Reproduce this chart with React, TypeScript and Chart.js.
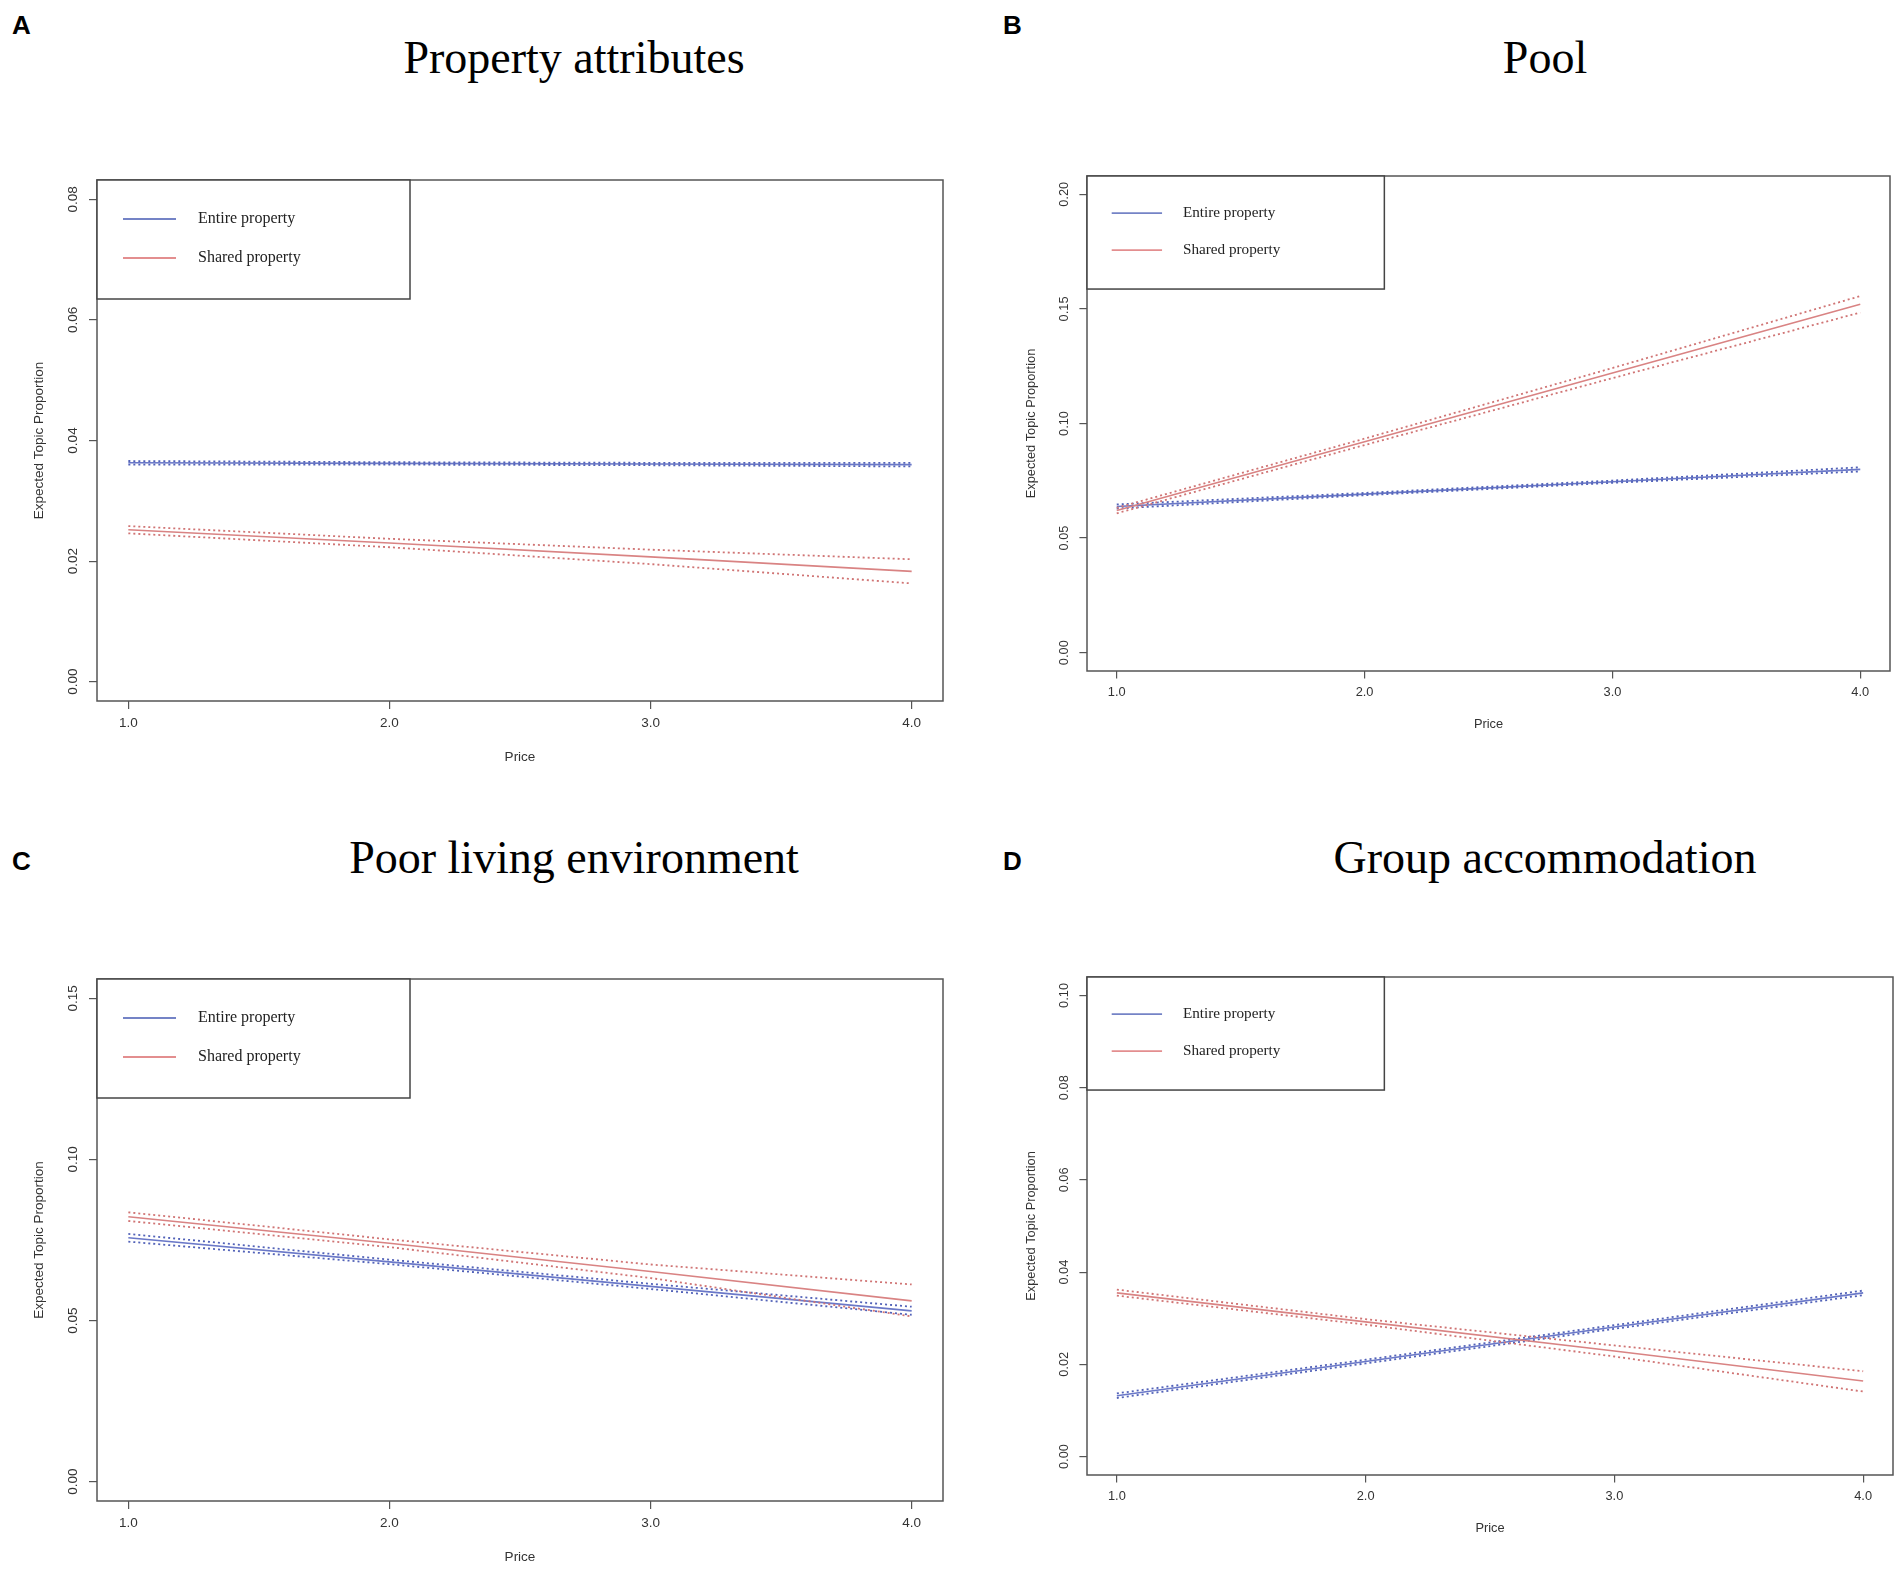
import React, { useEffect, useRef } from "react";
import { Chart, registerables } from "chart.js";
Chart.register(...registerables);

// ---------- data ----------
const PRICE = [1, 2, 3, 4];
const X_TICKS = [1, 2, 3, 4];
const X_TICK_LABELS = ["1.0", "2.0", "3.0", "4.0"];
const SERIES_NAMES = ["Entire property", "Shared property"];
const X_TITLE = "Price";
const Y_TITLE = "Expected Topic Proportion";

// A — Property attributes
const A_Y_TICKS = [0, 0.02, 0.04, 0.06, 0.08];
const A_Y_LABELS = ["0.00", "0.02", "0.04", "0.06", "0.08"];
const A_ENTIRE = [0.0363, 0.0362, 0.0361, 0.036];
const A_ENTIRE_UP = [0.0366, 0.0364, 0.0363, 0.0363];
const A_ENTIRE_LO = [0.036, 0.036, 0.0359, 0.0357];
const A_SHARED = [0.0252, 0.023, 0.0207, 0.0183];
const A_SHARED_UP = [0.0258, 0.0237, 0.0219, 0.0203];
const A_SHARED_LO = [0.0246, 0.0223, 0.0195, 0.0163];

// B — Pool
const B_Y_TICKS = [0, 0.05, 0.1, 0.15, 0.2];
const B_Y_LABELS = ["0.00", "0.05", "0.10", "0.15", "0.20"];
const B_ENTIRE = [0.0638, 0.0692, 0.0746, 0.08];
const B_ENTIRE_UP = [0.0647, 0.0697, 0.0751, 0.0809];
const B_ENTIRE_LO = [0.0629, 0.0687, 0.0741, 0.0791];
const B_SHARED = [0.062, 0.092, 0.122, 0.152];
const B_SHARED_UP = [0.0632, 0.0934, 0.1242, 0.1556];
const B_SHARED_LO = [0.0608, 0.0906, 0.1198, 0.1484];

// C — Poor living environment
const C_Y_TICKS = [0, 0.05, 0.1, 0.15];
const C_Y_LABELS = ["0.00", "0.05", "0.10", "0.15"];
const C_ENTIRE = [0.0757, 0.0682, 0.0606, 0.053];
const C_ENTIRE_UP = [0.0769, 0.0689, 0.0614, 0.0543];
const C_ENTIRE_LO = [0.0745, 0.0675, 0.0598, 0.0518];
const C_SHARED = [0.0822, 0.074, 0.0652, 0.0561];
const C_SHARED_UP = [0.0836, 0.0752, 0.0674, 0.0612];
const C_SHARED_LO = [0.0809, 0.0728, 0.0632, 0.0513];

// D — Group accommodation
const D_Y_TICKS = [0, 0.02, 0.04, 0.06, 0.08, 0.1];
const D_Y_LABELS = ["0.00", "0.02", "0.04", "0.06", "0.08", "0.10"];
const D_ENTIRE = [0.0132, 0.0206, 0.0281, 0.0355];
const D_ENTIRE_UP = [0.0137, 0.021, 0.0285, 0.036];
const D_ENTIRE_LO = [0.0127, 0.0202, 0.0277, 0.035];
const D_SHARED = [0.0355, 0.0292, 0.0229, 0.0164];
const D_SHARED_UP = [0.0362, 0.0298, 0.0241, 0.0185];
const D_SHARED_LO = [0.0349, 0.0286, 0.0217, 0.0141];

// ---------- layout / style ----------
const COL_ENTIRE = "#6a78c8";
const COL_ENTIRE_CI = "#5262b8";
const COL_SHARED = "#d98383";
const COL_SHARED_CI = "#d07474";
const LEG_COLORS = ["#7483c6", "#e38e8f"];

type PanelCfg = {
  letter: string;
  title: string;
  ymax: number;
  yticks: number[];
  ylabels: string[];
  entire: number[][];
  shared: number[][];
  box: { l: number; t: number; r: number; b: number };
  s: number;
  titleX: number;
  titleBase: number;
  letterX: number;
  letterBase: number;
};

const PANELS: PanelCfg[] = [
  {
    letter: "A", title: "Property attributes", ymax: 0.08, yticks: A_Y_TICKS, ylabels: A_Y_LABELS,
    entire: [A_ENTIRE, A_ENTIRE_UP, A_ENTIRE_LO], shared: [A_SHARED, A_SHARED_UP, A_SHARED_LO],
    box: { l: 97, t: 180, r: 943, b: 701 }, s: 1, titleX: 574, titleBase: 73, letterX: 12, letterBase: 34,
  },
  {
    letter: "B", title: "Pool", ymax: 0.2, yticks: B_Y_TICKS, ylabels: B_Y_LABELS,
    entire: [B_ENTIRE, B_ENTIRE_UP, B_ENTIRE_LO], shared: [B_SHARED, B_SHARED_UP, B_SHARED_LO],
    box: { l: 1087, t: 176, r: 1890, b: 671 }, s: 0.95, titleX: 1545, titleBase: 73, letterX: 1003, letterBase: 34,
  },
  {
    letter: "C", title: "Poor living environment", ymax: 0.15, yticks: C_Y_TICKS, ylabels: C_Y_LABELS,
    entire: [C_ENTIRE, C_ENTIRE_UP, C_ENTIRE_LO], shared: [C_SHARED, C_SHARED_UP, C_SHARED_LO],
    box: { l: 97, t: 979, r: 943, b: 1501 }, s: 1, titleX: 574, titleBase: 873, letterX: 12, letterBase: 870,
  },
  {
    letter: "D", title: "Group accommodation", ymax: 0.1, yticks: D_Y_TICKS, ylabels: D_Y_LABELS,
    entire: [D_ENTIRE, D_ENTIRE_UP, D_ENTIRE_LO], shared: [D_SHARED, D_SHARED_UP, D_SHARED_LO],
    box: { l: 1087, t: 977, r: 1893, b: 1475 }, s: 0.95, titleX: 1545, titleBase: 873, letterX: 1003, letterBase: 870,
  },
];

const AXW = 97;
const PADT = 20;
const AXH = 85;
const PADR = 8;

const boxPlugin = {
  id: "rbox",
  afterDatasetsDraw(chart: any) {
    const { ctx, chartArea } = chart;
    ctx.save();
    ctx.strokeStyle = "#555";
    ctx.lineWidth = 1.5;
    ctx.strokeRect(chartArea.left, chartArea.top, chartArea.right - chartArea.left, chartArea.bottom - chartArea.top);
    ctx.restore();
  },
};

function legendPlugin(s: number) {
  return {
    id: "rlegend",
    afterDraw(chart: any) {
      const { ctx, chartArea } = chart;
      const left = chartArea.left;
      const top = chartArea.top;
      const w = 313 * s;
      const h = 119 * s;
      ctx.save();
      ctx.fillStyle = "#fff";
      ctx.fillRect(left, top, w, h);
      ctx.strokeStyle = "#444";
      ctx.lineWidth = 1.5;
      ctx.strokeRect(left, top, w, h);
      SERIES_NAMES.forEach((name, i) => {
        const y = top + (39 + 39 * i) * s;
        ctx.strokeStyle = LEG_COLORS[i];
        ctx.lineWidth = 1.8;
        ctx.beginPath();
        ctx.moveTo(left + 26 * s, y);
        ctx.lineTo(left + 79 * s, y);
        ctx.stroke();
        ctx.fillStyle = "#222";
        ctx.font = `${16 * s}px "Liberation Serif"`;
        ctx.textBaseline = "middle";
        ctx.textAlign = "left";
        ctx.fillText(name, left + 101 * s, y);
      });
      ctx.restore();
    },
  };
}

function Panel({ p }: { p: PanelCfg }) {
  const ref = useRef<HTMLCanvasElement>(null);
  const { box, s } = p;
  const cw = box.r - box.l + AXW + PADR;
  const ch = box.b - box.t + PADT + AXH;

  useEffect(() => {
    if (!ref.current) return;
    const fsize = 13.5 * s;
    const lh = fsize * 1.2;
    const font = { family: "Liberation Sans", size: fsize };
    const pts = (ys: number[]) => PRICE.map((x, i) => ({ x, y: ys[i] }));
    const solid = (ys: number[], color: string, order: number) => ({
      data: pts(ys), borderColor: color, borderWidth: 1.6, pointRadius: 0, tension: 0, fill: false, order,
    });
    const dotted = (ys: number[], color: string, order: number) => ({
      data: pts(ys), borderColor: color, borderWidth: 1.8, borderDash: [2, 3], pointRadius: 0, tension: 0, fill: false, order,
    });
    const chart = new Chart(ref.current, {
      type: "line",
      data: {
        datasets: [
          dotted(p.shared[1], COL_SHARED_CI, 0),
          dotted(p.shared[2], COL_SHARED_CI, 0),
          solid(p.shared[0], COL_SHARED, 1),
          dotted(p.entire[1], COL_ENTIRE_CI, 2),
          dotted(p.entire[2], COL_ENTIRE_CI, 2),
          solid(p.entire[0], COL_ENTIRE, 3),
        ] as any,
      },
      options: {
        responsive: false,
        animation: false,
        devicePixelRatio: 1,
        layout: { padding: { left: 0, top: PADT, right: PADR, bottom: 0 } },
        plugins: { legend: { display: false }, tooltip: { enabled: false }, title: { display: false } },
        scales: {
          x: {
            type: "linear",
            min: 0.88,
            max: 4.12,
            afterBuildTicks: (sc: any) => { sc.ticks = X_TICKS.map((v) => ({ value: v })); },
            afterFit: (sc: any) => { sc.height = AXH; },
            ticks: {
              callback: (_v: any, i: number) => X_TICK_LABELS[i],
              font, color: "#333", padding: 6, maxRotation: 0, minRotation: 0, autoSkip: false,
            },
            grid: { drawOnChartArea: false, drawTicks: true, tickLength: 8 * s, color: "#555", lineWidth: 1.2 },
            border: { display: false },
            title: { display: true, text: X_TITLE, font, color: "#333", padding: { top: 0, bottom: AXH - 56 * s - lh / 2 } },
          },
          y: {
            type: "linear",
            min: -0.04 * p.ymax,
            max: 1.04 * p.ymax,
            afterBuildTicks: (sc: any) => { sc.ticks = p.yticks.map((v) => ({ value: v })); },
            afterFit: (sc: any) => { sc.width = AXW; },
            ticks: {
              callback: (_v: any, i: number) => p.ylabels[i],
              font, color: "#333", padding: 3 * s, minRotation: 90, maxRotation: 90, crossAlign: "center", autoSkip: false,
            },
            grid: { drawOnChartArea: false, drawTicks: true, tickLength: 8 * s, color: "#555", lineWidth: 1.2 },
            border: { display: false },
            title: { display: true, text: Y_TITLE, font, color: "#333", padding: { top: AXW - 58 * s - lh / 2, bottom: 0 } },
          },
        },
      } as any,
      plugins: [boxPlugin, legendPlugin(s)],
    });
    return () => chart.destroy();
  }, []);

  return (
    <>
      <div
        style={{
          position: "absolute", left: p.letterX, top: p.letterBase - 22, fontFamily: '"Liberation Sans", Arial, sans-serif',
          fontWeight: 700, fontSize: 26, lineHeight: "26px", color: "#000",
        }}
      >
        {p.letter}
      </div>
      <div
        style={{
          position: "absolute", left: p.titleX - 400, width: 800, textAlign: "center", top: p.titleBase - 38.5,
          fontFamily: '"Liberation Serif", "Times New Roman", serif', fontSize: 46, lineHeight: "46px", color: "#000", whiteSpace: "nowrap",
        }}
      >
        {p.title}
      </div>
      <canvas
        ref={ref}
        width={cw}
        height={ch}
        style={{ position: "absolute", left: box.l - AXW, top: box.t - PADT, width: cw, height: ch }}
      />
    </>
  );
}

export default function App() {
  return (
    <div style={{ position: "absolute", left: 0, top: 0, width: 1904, height: 1575, background: "#fff", overflow: "hidden" }}>
      {PANELS.map((p) => (
        <Panel key={p.letter} p={p} />
      ))}
    </div>
  );
}
